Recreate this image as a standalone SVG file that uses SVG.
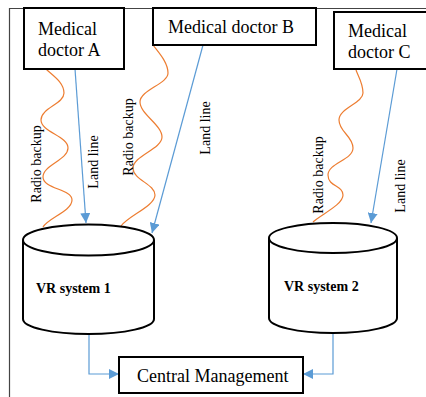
<svg xmlns="http://www.w3.org/2000/svg" width="426" height="397" viewBox="0 0 426 397">
<defs>
<style>
.box{fill:#fff;stroke:#000;stroke-width:2}
.cyl{fill:#fff;stroke:#000;stroke-width:2}
.t{font-family:"Liberation Serif","Times New Roman",serif;font-size:18px;fill:#000}
.vr{font-family:"Liberation Serif","Times New Roman",serif;font-size:14px;font-weight:bold;fill:#000}
.lbl{font-family:"Liberation Serif","Times New Roman",serif;font-size:14px;fill:#000}
.land{fill:none;stroke:#5B9BD5;stroke-width:1.2}
.radio{fill:none;stroke:#ED7D31;stroke-width:1.2}
</style>
<marker id="ah" viewBox="0 0 10 10" refX="10" refY="5" markerWidth="10" markerHeight="10" markerUnits="userSpaceOnUse" orient="auto">
<path d="M0,0 L10,5 L0,10 z" fill="#5B9BD5"/>
</marker>
</defs>
<rect width="426" height="397" fill="#fff"/>
<g id="frame">
<path d="M9.5,397 V8.5 H426" fill="none" stroke="#444" stroke-width="1.2"/>
</g>
<g id="connectors">
<path class="land" d="M75,69 L86,223" marker-end="url(#ah)"/>
<path class="land" d="M203,45 L152,233" marker-end="url(#ah)"/>
<path class="land" d="M397,69 L371,223" marker-end="url(#ah)"/>
<path class="radio" d="M46,69 C52,75 64,82 64,93 S41,108 41,120 S68,136 68,148 S43,165 43,177 S72,189 72,200 S48,218 43,227"/>
<path class="radio" d="M153,45 C158,52 168,62 168,73 S140,90 140,102 S162,125 162,137 S133,156 133,168 S155,184 155,195 S128,216 121,226"/>
<path class="radio" d="M356,70 C358,76 363,83 363,93 S339,108 339,120 S353,136 353,148 S328,163 328,175 S343,185 343,195 S320,215 313,222"/>
<path class="land" d="M89,334 V374 H119" marker-end="url(#ah)"/>
<path class="land" d="M333,333 V374 H303" marker-end="url(#ah)"/>
<text class="lbl" transform="translate(41,164) rotate(-90)" text-anchor="middle">Radio backup</text>
<text class="lbl" transform="translate(98,162) rotate(-90)" text-anchor="middle">Land line</text>
<text class="lbl" transform="translate(133,137) rotate(-90)" text-anchor="middle">Radio backup</text>
<text class="lbl" transform="translate(210,128) rotate(-90)" text-anchor="middle">Land line</text>
<text class="lbl" transform="translate(323,175) rotate(-90)" text-anchor="middle">Radio backup</text>
<text class="lbl" transform="translate(405,186) rotate(-90)" text-anchor="middle">Land line</text>
</g>
<g id="doctorA">
<rect class="box" x="24" y="8" width="100" height="61"/>
<text class="t" x="38" y="35">Medical</text>
<text class="t" x="38" y="56">doctor A</text>
</g>
<g id="doctorB">
<rect class="box" x="153" y="8" width="163" height="37"/>
<text class="t" x="168" y="33">Medical doctor B</text>
</g>
<g id="doctorC">
<rect class="box" x="334" y="12" width="100" height="57"/>
<text class="t" x="348" y="37">Medical</text>
<text class="t" x="348" y="58">doctor C</text>
</g>
<g id="vr1">
<path class="cyl" d="M23,240 V319 A65.5,15 0 0 0 154,319 V240"/>
<ellipse class="cyl" cx="88.5" cy="240" rx="65.5" ry="15.5"/>
<text class="vr" x="36" y="293">VR system 1</text>
</g>
<g id="vr2">
<path class="cyl" d="M269,238 V318 A64,15 0 0 0 397,318 V238"/>
<ellipse class="cyl" cx="333" cy="238" rx="64" ry="15"/>
<text class="vr" x="284" y="291">VR system 2</text>
</g>
<g id="central">
<rect class="box" x="119" y="357" width="184" height="36"/>
<text class="t" x="137" y="382">Central Management</text>
</g>
</svg>
